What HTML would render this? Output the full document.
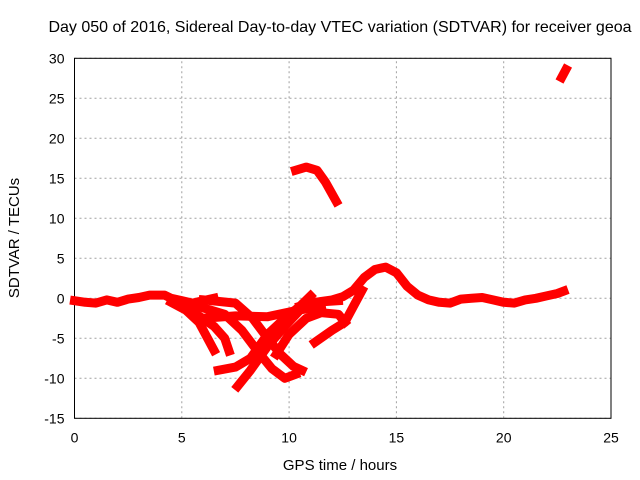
<!DOCTYPE html>
<html><head><meta charset="utf-8"><style>
body{margin:0;background:#fff}
svg{display:block;font-family:"Liberation Sans",sans-serif;font-size:14px}
</style></head><body>
<svg id="c" width="640" height="480"></svg>
<script>
const xTicks=[0,5,10,15,20,25];
const yTicks=[-15,-10,-5,0,5,10,15,20,25,30];
const trackBase=[[0,-0.3],[0.5,-0.5],[1,-0.6],[1.5,-0.2],[2,-0.5],[2.5,-0.1],[3,0.1],[3.5,0.4],[4.2,0.4],[4.5,0],[5,-0.3],[5.5,-0.6],[6,-0.3],[6.5,0]];
const trackRise=[[10.5,-1],[11,-0.6],[11.5,-0.4],[12,-0.2],[12.5,0.2],[13,1],[13.5,2.6],[14,3.6],[14.5,3.9],[15,3.2],[15.5,1.5],[16,0.4],[16.5,-0.2],[17,-0.5],[17.5,-0.6],[18,-0.1],[18.5,0],[19,0.1],[19.5,-0.2],[20,-0.5],[20.5,-0.6],[21,-0.2],[21.5,0],[22,0.3],[22.5,0.6],[22.8,0.9]];
const track1=[[4.5,-0.5],[5.2,-1.5],[5.8,-3],[6.2,-5],[6.5,-6.5]];
const track2=[[5,-1],[5.8,-2.2],[6.5,-3.5],[7,-5],[7.2,-6.6]];
const track3=[[6.7,-9],[7.5,-8.6],[8.2,-7.5],[9,-4.5],[9.8,-2.5],[10.5,-1],[11,0.3]];
const track4=[[7.6,-11],[8.2,-9],[9,-6],[9.8,-3.5],[10.5,-1.5],[11.2,-0.5],[12.3,-0.3]];
const track5=[[5.5,-0.8],[7,-2],[7.8,-4],[8.5,-6.5],[9.2,-8.8],[9.8,-10],[10.3,-9.5]];
const track6=[[6,-0.2],[7.5,-0.6],[8.3,-2.5],[9,-5],[9.6,-7],[10.2,-8.5],[10.6,-9]];
const track7=[[9.4,-7],[10,-4.5],[10.8,-2.5],[11.5,-1.8],[12.3,-2],[12.6,-3]];
const track8=[[11.2,-5.5],[12,-4],[12.6,-3],[13,-1],[13.4,1]];
const track9=[[6,-2.5],[7.5,-2.2],[9,-2.3],[10.2,-1.6],[11.5,-1]];
const track10=[[10.3,16],[10.8,16.4],[11.3,16],[11.7,14.5],[12.2,12.1]];
const track11=[[22.7,27.6],[22.9,28.6]];
const tracks=[trackBase,trackRise,track1,track2,track3,track4,track5,track6,track7,track8,track9,track10,track11];
const svg=document.getElementById('c');const NS='http://www.w3.org/2000/svg';
const X0=74.5,X1=611,Y0=418.3,Y1=58.3;
const px=x=>X0+(x-0)/25*(X1-X0);
const py=y=>Y0-(y+15)/45*(Y0-Y1);
function mk(t,a,p){const e=document.createElementNS(NS,t);for(const k in a)e.setAttribute(k,a[k]);(p||svg).appendChild(e);return e;}
xTicks.forEach(t=>{const l=mk('line',{x1:px(t),x2:px(t),y1:Y0,y2:Y1,stroke:'#a0a0a0','stroke-dasharray':'2,3'});


const tx=mk('text',{x:px(t),y:Y0+24,'text-anchor':'middle',fill:'#000'});tx.textContent=t;

});
yTicks.forEach(t=>{const l=mk('line',{x1:X0,x2:X1,y1:py(t),y2:py(t),stroke:'#a0a0a0','stroke-dasharray':'2,3'});


const tx=mk('text',{x:X0-10,y:py(t)+5,'text-anchor':'end',fill:'#000'});tx.textContent=t;

});
const fr=mk('rect',{x:X0,y:Y1,width:X1-X0,height:Y0-Y1,fill:'none',stroke:'#000'});


tracks.forEach(tr=>{const pl=mk('polyline',{points:tr.map(d=>px(d[0])+','+py(d[1])).join(' '),fill:'none',stroke:'#f00','stroke-width':9,'stroke-linejoin':'round','stroke-linecap':'square'});

});
const t1=mk('text',{x:340,y:32,'text-anchor':'middle','font-size':'16px'});t1.textContent='Day 050 of 2016, Sidereal Day-to-day VTEC variation (SDTVAR) for receiver geoa';


const t2=mk('text',{x:340,y:470,'text-anchor':'middle','font-size':'15px'});t2.textContent='GPS time / hours';


const t3=mk('text',{x:19,y:238,'text-anchor':'middle','font-size':'15px',transform:'rotate(-90 19 238)'});t3.textContent='SDTVAR / TECUs';


</script>
</body></html>
